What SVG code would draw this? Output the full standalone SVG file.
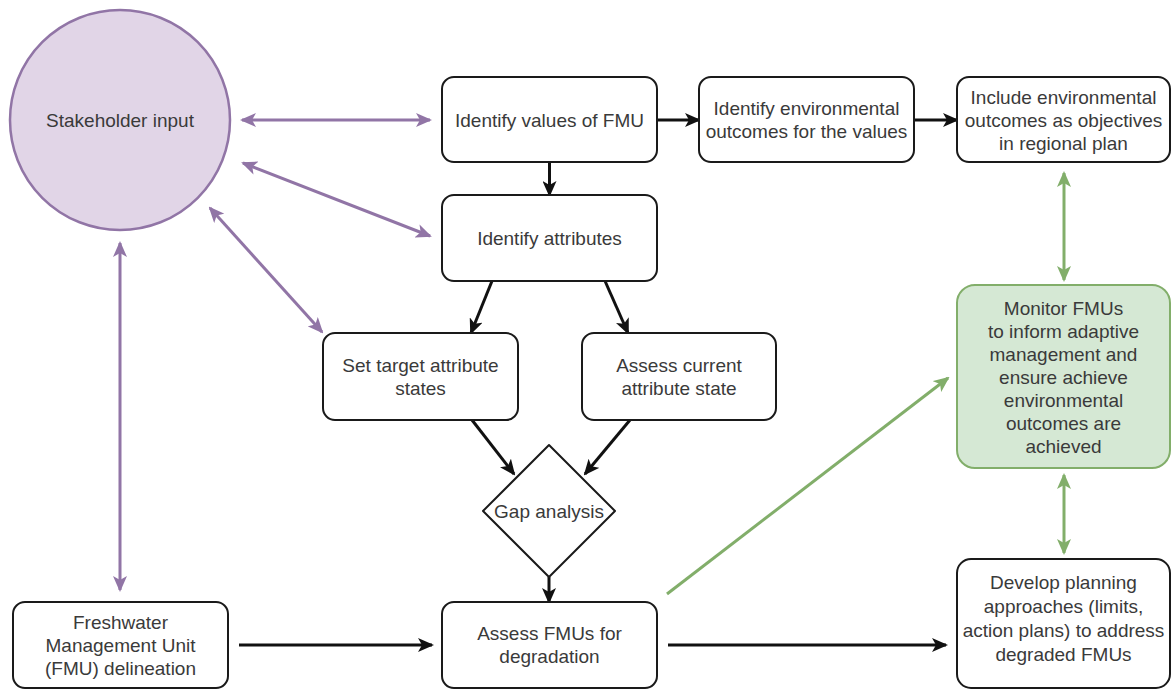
<svg xmlns="http://www.w3.org/2000/svg" width="1172" height="690" viewBox="0 0 1172 690">
<style>
.box{fill:#ffffff;stroke:#1a1a1a;stroke-width:2}
.t{font-family:"Liberation Sans",Arial,sans-serif;font-size:19px;fill:#3a3a3a;text-anchor:middle}
.k{stroke:#111;stroke-width:3;fill:none;marker-end:url(#ak)}
.p{stroke:#9175a6;stroke-width:3;fill:none;marker-start:url(#ap);marker-end:url(#ap)}
.g{stroke:#82ae6a;stroke-width:3;fill:none;marker-end:url(#ag)}
.g2{stroke:#82ae6a;stroke-width:3;fill:none;marker-start:url(#ag);marker-end:url(#ag)}
</style>
<defs>
<marker id="ak" markerUnits="userSpaceOnUse" markerWidth="16" markerHeight="14" viewBox="0 0 16 14" refX="14" refY="7" orient="auto-start-reverse"><path d="M0,0 L16,7 L0,14 L4,7 z" fill="#111"/></marker>
<marker id="ap" markerUnits="userSpaceOnUse" markerWidth="16" markerHeight="14" viewBox="0 0 16 14" refX="14" refY="7" orient="auto-start-reverse"><path d="M0,0 L16,7 L0,14 L4,7 z" fill="#9175a6"/></marker>
<marker id="ag" markerUnits="userSpaceOnUse" markerWidth="16" markerHeight="14" viewBox="0 0 16 14" refX="14" refY="7" orient="auto-start-reverse"><path d="M0,0 L16,7 L0,14 L4,7 z" fill="#82ae6a"/></marker>
</defs>

<g id="connectors">
<line class="p" x1="242" y1="120" x2="430" y2="120"/>
<line class="p" x1="243" y1="163" x2="430" y2="236"/>
<line class="p" x1="210" y1="208" x2="322" y2="332"/>
<line class="p" x1="120" y1="243" x2="120" y2="590"/>
<line class="k" x1="549.5" y1="162" x2="549.5" y2="195"/>
<line class="k" x1="657" y1="120" x2="699" y2="120"/>
<line class="k" x1="914" y1="120" x2="957" y2="120"/>
<line class="k" x1="492" y1="281" x2="471" y2="333"/>
<line class="k" x1="605" y1="281" x2="628" y2="333"/>
<line class="k" x1="472" y1="420" x2="514" y2="474"/>
<line class="k" x1="630" y1="420" x2="585" y2="474"/>
<line class="k" x1="549" y1="577" x2="549" y2="602"/>
<line class="k" x1="239" y1="645" x2="432" y2="645"/>
<line class="k" x1="668" y1="645" x2="946" y2="645"/>
<line class="g2" x1="1064" y1="173" x2="1064" y2="280"/>
<line class="g2" x1="1064" y1="475" x2="1064" y2="553"/>
<line class="g" x1="667" y1="594" x2="948" y2="378"/>
</g>

<g id="stakeholder">
<circle cx="120" cy="120" r="110" fill="#e1d5e7" stroke="#9175a6" stroke-width="2.5"/>
<text class="t" x="120" y="127">Stakeholder input</text>
</g>

<g id="identify-values">
<rect class="box" x="442" y="77" width="215" height="85" rx="12"/>
<text class="t" x="549.5" y="127">Identify values of FMU</text>
</g>

<g id="identify-outcomes">
<rect class="box" x="699" y="77" width="215" height="85" rx="12"/>
<text class="t" x="806.5" y="115">Identify environmental</text>
<text class="t" x="806.5" y="138">outcomes for the values</text>
</g>

<g id="include-outcomes">
<rect class="box" x="957" y="77" width="213" height="85" rx="12"/>
<text class="t" x="1063.5" y="104">Include environmental</text>
<text class="t" x="1063.5" y="127">outcomes as objectives</text>
<text class="t" x="1063.5" y="150">in regional plan</text>
</g>

<g id="identify-attributes">
<rect class="box" x="442" y="195" width="215" height="86" rx="12"/>
<text class="t" x="549.5" y="245">Identify attributes</text>
</g>

<g id="set-target">
<rect class="box" x="323" y="333" width="195" height="87" rx="12"/>
<text class="t" x="420.5" y="372">Set target attribute</text>
<text class="t" x="420.5" y="395">states</text>
</g>

<g id="assess-current">
<rect class="box" x="582" y="333" width="194" height="87" rx="12"/>
<text class="t" x="679" y="372">Assess current</text>
<text class="t" x="679" y="395">attribute state</text>
</g>

<g id="gap-analysis">
<path d="M549,445 L615,511 L549,577 L483,511 Z" fill="#ffffff" stroke="#1a1a1a" stroke-width="2" stroke-linejoin="round"/>
<text class="t" x="549" y="518">Gap analysis</text>
</g>

<g id="monitor">
<rect x="957" y="285" width="213" height="183" rx="18" fill="#d5e8d4" stroke="#82ae6a" stroke-width="2"/>
<text class="t" x="1063.5" y="315">Monitor FMUs</text>
<text class="t" x="1063.5" y="338">to inform adaptive</text>
<text class="t" x="1063.5" y="361">management and</text>
<text class="t" x="1063.5" y="384">ensure achieve</text>
<text class="t" x="1063.5" y="407">environmental</text>
<text class="t" x="1063.5" y="430">outcomes are</text>
<text class="t" x="1063.5" y="453">achieved</text>
</g>

<g id="freshwater">
<rect class="box" x="13" y="602" width="215" height="86" rx="12"/>
<text class="t" x="120.5" y="629">Freshwater</text>
<text class="t" x="120.5" y="652">Management Unit</text>
<text class="t" x="120.5" y="675">(FMU) delineation</text>
</g>

<g id="assess-fmus">
<rect class="box" x="442" y="602" width="215" height="86" rx="12"/>
<text class="t" x="549.5" y="640">Assess FMUs for</text>
<text class="t" x="549.5" y="663">degradation</text>
</g>

<g id="develop">
<rect class="box" x="957" y="559" width="213" height="129" rx="14"/>
<text class="t" x="1063.5" y="589">Develop planning</text>
<text class="t" x="1063.5" y="613">approaches (limits,</text>
<text class="t" x="1063.5" y="637">action plans) to address</text>
<text class="t" x="1063.5" y="661">degraded FMUs</text>
</g>
</svg>
